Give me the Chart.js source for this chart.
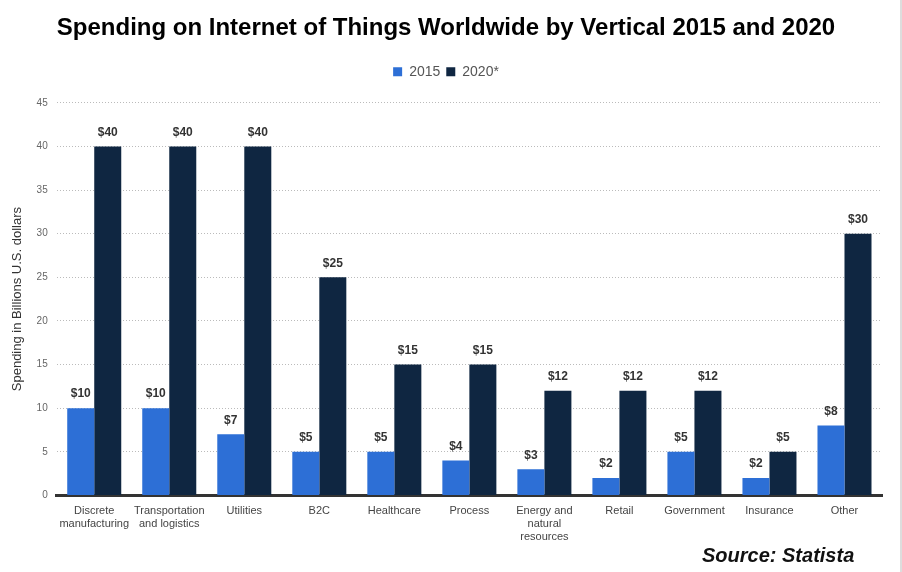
<!DOCTYPE html>
<html>
<head>
<meta charset="utf-8">
<script src="https://cdn.jsdelivr.net/npm/chart.js@4"></script>
<style>
    html, body { margin: 0; padding: 0; background: #fff; }
    #wrap { position: relative; width: 902px; height: 572px; box-sizing: border-box; border-right: 2px solid #ddd; }
    #source { position: absolute; left: 702px; top: 544px; font: italic bold 20px "Liberation Sans", Arial, sans-serif; color: #111; }
</style>
</head>
<body>
<div id="wrap">
    <canvas id="chart" width="900" height="572"></canvas>
    <div id="source">Source: Statista</div>
</div>
<script>
const categories = [
    ['Discrete', 'manufacturing'],
    ['Transportation', 'and logistics'],
    'Utilities',
    'B2C',
    'Healthcare',
    'Process',
    ['Energy and', 'natural', 'resources'],
    'Retail',
    'Government',
    'Insurance',
    'Other'
];
const values2015 = [10, 10, 7, 5, 5, 4, 3, 2, 5, 2, 8];
const values2020 = [40, 40, 40, 25, 15, 15, 12, 12, 12, 5, 30];
const yTicks = [0, 5, 10, 15, 20, 25, 30, 35, 40, 45];

const FONT = '"Liberation Sans", Arial, sans-serif';

// draws "$x" above each bar
const valueLabels = {
    id: 'valueLabels',
    afterDatasetsDraw(chart) {
        const ctx = chart.ctx;
        ctx.save();
        ctx.font = 'bold 12px ' + FONT;
        ctx.fillStyle = '#333';
        ctx.textAlign = 'center';
        ctx.textBaseline = 'bottom';
        chart.data.datasets.forEach((ds, i) => {
            chart.getDatasetMeta(i).data.forEach((bar, j) => {
                ctx.fillText('$' + ds.data[j], bar.x, bar.y - 8);
            });
        });
        ctx.restore();
    }
};

// extra space under the legend
const legendGap = {
    id: 'legendGap',
    beforeInit(chart) {
        const fit = chart.legend.fit;
        chart.legend.fit = function () {
            fit.bind(chart.legend)();
            this.height += 14;
        };
    }
};

new Chart(document.getElementById('chart'), {
    type: 'bar',
    data: {
        labels: categories,
        datasets: [
            { label: '2015', data: values2015, backgroundColor: '#2d6fd6' },
            { label: '2020*', data: values2020, backgroundColor: '#0f2641' }
        ]
    },
    options: {
        responsive: false,
        animation: false,
        categoryPercentage: 0.72,
        barPercentage: 1,
        layout: { padding: { left: 10, right: 18, top: 2, bottom: 27 } },
        plugins: {
            title: {
                display: true,
                text: 'Spending on Internet of Things Worldwide by Vertical 2015 and 2020',
                color: '#000',
                font: { family: FONT, size: 24, weight: 'bold' },
                padding: { top: 12, bottom: 16 }
            },
            legend: {
                labels: {
                    boxWidth: 9,
                    boxHeight: 9,
                    padding: 6,
                    color: '#555',
                    font: { family: FONT, size: 14 }
                }
            },
            tooltip: { enabled: false }
        },
        scales: {
            x: {
                grid: { display: false },
                border: { color: '#333', width: 3 },
                ticks: {
                    color: '#444',
                    maxRotation: 0,
                    autoSkip: false,
                    padding: 1,
                    font: { family: FONT, size: 11 }
                }
            },
            y: {
                min: 0,
                max: 45,
                afterBuildTicks: axis => { axis.ticks = yTicks.map(v => ({ value: v })); },
                border: { display: false, dash: [1, 2] },
                grid: { color: '#bbb', drawTicks: false },
                ticks: {
                    color: '#666',
                    padding: 9,
                    font: { family: FONT, size: 10 }
                },
                title: {
                    display: true,
                    text: 'Spending in Billions U.S. dollars',
                    color: '#333',
                    padding: { top: 0, bottom: 2 },
                    font: { family: FONT, size: 13 }
                }
            }
        }
    },
    plugins: [valueLabels, legendGap]
});
</script>
</body>
</html>
